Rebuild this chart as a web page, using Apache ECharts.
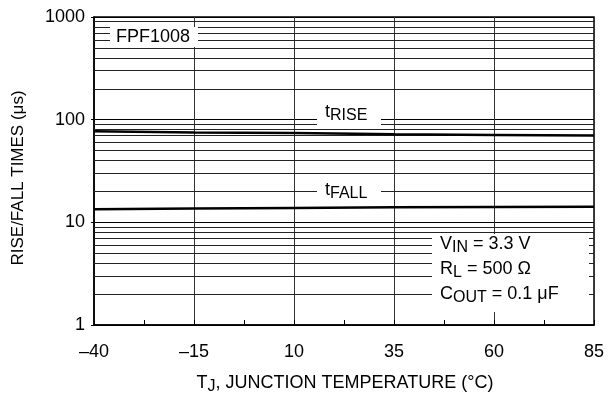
<!DOCTYPE html>
<html><head><meta charset="utf-8">
<script src="https://cdn.jsdelivr.net/npm/echarts@6/dist/echarts.min.js"></script>
<style>html,body{margin:0;padding:0;background:#fff}#c{width:611px;height:417px}</style>
</head><body><div id="c"></div>
<script>
const temps = [-40, -15, 10, 35, 60, 85];
const tRise = [77, 75, 74, 72, 71, 70];
const tFall = [13.4, 13.6, 13.8, 14.0, 14.1, 14.2];
const minorGrid = [2,3,4,5,6,7,8,9,20,30,40,50,60,70,80,90,200,300,400,500,600,700,800,900];
const FONT = "'Liberation Sans', Arial, sans-serif";

const chart = echarts.init(document.getElementById('c'), null, {renderer: 'canvas'});
const txt = (extra) => Object.assign({fontFamily: FONT, fontSize: 18, fill: '#000'}, extra);
const richBase = {
  n: {fontFamily: FONT, fontSize: 18, lineHeight: 20, verticalAlign: 'top', color: '#000'},
  s: {fontFamily: FONT, fontSize: 16, lineHeight: 20, verticalAlign: 'top', padding: [5, 0, 0, 0], color: '#000'}
};
chart.setOption({
  animation: false,
  backgroundColor: '#fff',
  grid: {left: 94, right: 17, top: 17, bottom: 92, show: true, borderColor: '#000', borderWidth: 1.5, backgroundColor: 'transparent'},
  xAxis: {
    type: 'value', min: -40, max: 85, interval: 25,
    axisLine: {onZero: false, lineStyle: {color: '#000', width: 1.5}},
    axisTick: {show: true, inside: true, length: 5, lineStyle: {color: '#000'}},
    minorTick: {show: true, splitNumber: 2, length: 5, lineStyle: {color: '#000'}},
    axisLabel: {fontFamily: FONT, fontSize: 18, color: '#000', margin: 18,
      formatter: v => String(v).replace('-', '\u2013')},
    splitLine: {show: true, lineStyle: {color: '#333', width: 1}}
  },
  yAxis: {
    type: 'log', logBase: 10, min: 1, max: 1000,
    axisLine: {show: true, onZero: false, lineStyle: {color: '#000', width: 1.5}},
    axisTick: {show: true, inside: false, length: 3, lineStyle: {color: '#000'}},
    axisLabel: {fontFamily: FONT, fontSize: 18, color: '#000', margin: 9, formatter: v => String(Math.round(v))},
    splitLine: {show: true, lineStyle: {color: '#000', width: 1}}
  },
  series: [
    {
      type: 'line', data: [], z: 1, silent: true,
      markLine: {
        silent: true, symbol: 'none', animation: false,
        label: {show: false},
        lineStyle: {color: '#222', width: 1, type: 'solid'},
        data: minorGrid.map(v => ({yAxis: v}))
      }
    },
    {type: 'line', data: temps.map((t, i) => [t, tRise[i]]), symbol: 'none', z: 5,
      lineStyle: {color: '#000', width: 2.5}},
    {type: 'line', data: temps.map((t, i) => [t, tFall[i]]), symbol: 'none', z: 5,
      lineStyle: {color: '#000', width: 2.5}}
  ],
  graphic: [
    {type: 'rect', z: 100, shape: {x: 110, y: 27, width: 88, height: 20}, style: {fill: '#fff'}},
    {type: 'text', z: 101, x: 153, y: 37, style: txt({text: 'FPF1008', align: 'center', verticalAlign: 'middle'})},
    {type: 'rect', z: 100, shape: {x: 317, y: 103, width: 64, height: 24}, style: {fill: '#fff'}},
    {type: 'text', z: 101, x: 325, y: 103, style: {text: '{n|t}{s|RISE}', rich: richBase}},
    {type: 'rect', z: 100, shape: {x: 317, y: 181, width: 64, height: 24}, style: {fill: '#fff'}},
    {type: 'text', z: 101, x: 325, y: 181, style: {text: '{n|t}{s|FALL}', rich: richBase}},
    {type: 'rect', z: 100, shape: {x: 432, y: 234, width: 157, height: 78}, style: {fill: '#fff'}},
    {type: 'text', z: 101, x: 440, y: 235, style: {text: '{n|V}{s|IN}{n| = 3.3 V}', rich: richBase}},
    {type: 'text', z: 101, x: 440, y: 260, style: {text: '{n|R}{s|L}{n| = 500 \u03A9}', rich: richBase}},
    {type: 'text', z: 101, x: 440, y: 285, style: {text: '{n|C}{s|OUT}{n| = 0.1 \u03BCF}', rich: richBase}},
    {type: 'text', z: 101, x: 345, y: 374, style: {text: '{n|T}{s|J}{n|, JUNCTION TEMPERATURE (\u00B0C)}', rich: richBase, align: 'center'}},
    {type: 'text', z: 101, x: 18, y: 178, rotation: Math.PI / 2,
      style: txt({text: 'RISE/FALL TIMES (\u03BCs)', fontSize: 17, align: 'center', verticalAlign: 'middle'})}
  ]
});
</script></body></html>
